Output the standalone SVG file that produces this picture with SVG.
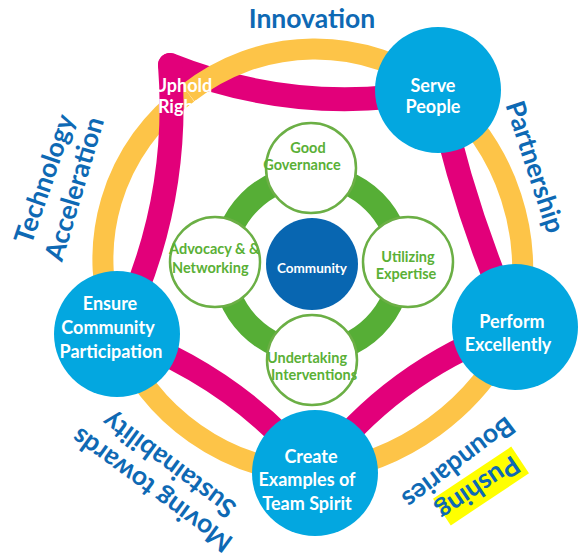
<svg xmlns="http://www.w3.org/2000/svg" width="580" height="560" viewBox="0 0 580 560">
<style>
.orange{fill:none;stroke:#FDC448;stroke-width:21}
.pink{fill:none;stroke:#E2007A;stroke-width:24;stroke-linecap:round}
.blue{fill:#03A7E0}
.sat{fill:#fff;stroke:#6BAF45;stroke-width:2.5}
.wl{font-family:Lato,"Open Sans",sans-serif;font-weight:bold;font-size:18px;fill:#fff;text-anchor:middle}
.gl{font-family:Lato,"Open Sans",sans-serif;font-weight:bold;font-size:14.5px;fill:#5AB036;text-anchor:middle}
.ol{font-family:Lato,"Open Sans",sans-serif;font-weight:bold;font-size:26.5px;fill:#0E69B4;text-anchor:middle}
</style>
<rect width="580" height="560" fill="#fff"/>
<g id="connectors">
<path class="orange" d="M117,334 A205,205 0 0 1 188,93"/>
<path class="orange" d="M438,90 A231,231 0 0 1 515,327"/>
<path class="orange" d="M515,327 A250,250 0 0 1 315,473"/>
<path class="orange" d="M315,473 A218,218 0 0 1 117,334"/>
<path class="pink" d="M170,65 Q300,117 438,90"/>
<path class="orange" d="M188,93 A205,205 0 0 1 438,90"/>
<path class="pink" d="M438,90 Q464,212 515,327"/>
<path class="pink" d="M515,327 Q393,369 315,473"/>
<path class="pink" d="M315,473 Q236,376 117,334"/>
<path class="pink" d="M117,334 Q181,207 170,65"/>
<circle cx="312" cy="264" r="88" fill="none" stroke="#56AE36" stroke-width="24"/>
</g>
<g id="uphold-rights">
<text class="wl" x="183" y="92">Uphold</text>
<text class="wl" x="183" y="113">Rights</text>
</g>
<g id="serve-people">
<circle class="blue" cx="438" cy="90" r="63"/>
<text class="wl" x="433" y="92">Serve</text>
<text class="wl" x="433" y="113">People</text>
</g>
<g id="perform-excellently">
<circle class="blue" cx="515" cy="327" r="63"/>
<text class="wl" x="512" y="328">Perform</text>
<text class="wl" x="508" y="351">Excellently</text>
</g>
<g id="create-examples">
<circle class="blue" cx="315" cy="473" r="63"/>
<text class="wl" x="311" y="463">Create</text>
<text class="wl" x="307" y="486">Examples of</text>
<text class="wl" x="307" y="510">Team Spirit</text>
</g>
<g id="ensure-community">
<circle class="blue" cx="117" cy="334" r="63"/>
<text class="wl" x="110" y="310">Ensure</text>
<text class="wl" x="108" y="334">Community</text>
<text class="wl" x="111" y="358">Participation</text>
</g>
<g id="good-governance">
<circle class="sat" cx="311" cy="168" r="45"/>
<text class="gl" x="308" y="153">Good</text>
<text class="gl" x="302" y="170">Governance</text>
</g>
<g id="advocacy">
<circle class="sat" cx="215" cy="262" r="45"/>
<text class="gl" x="169" y="254" style="text-anchor:start">Advocacy &amp; &amp;</text>
<text class="gl" x="172" y="273" style="text-anchor:start">Networking</text>
</g>
<g id="utilizing-expertise">
<circle class="sat" cx="408" cy="262" r="45"/>
<text class="gl" x="408" y="262">Utilizing</text>
<text class="gl" x="406" y="279">Expertise</text>
</g>
<g id="undertaking-interventions">
<circle class="sat" cx="312" cy="360" r="45"/>
<text class="gl" x="307" y="363">Undertaking</text>
<text class="gl" x="314" y="380">Interventions</text>
</g>
<g id="community">
<circle cx="312" cy="264" r="46" fill="#0866B1"/>
<text class="gl" x="312" y="273" style="fill:#fff;font-size:13.5px">Community</text>
</g>
<g id="labels">
<text class="ol" x="312" y="28">Innovation</text>
<text class="ol" x="0" y="9" transform="translate(535,167) rotate(72)">Partnership</text>
<text class="ol" x="0" y="9" transform="translate(44.5,179) rotate(-71)">Technology</text>
<text class="ol" x="0" y="9" transform="translate(74.5,189) rotate(-73.5)">Acceleration</text>
<text class="ol" x="0" y="9" transform="translate(152,490) rotate(216)">Moving towards</text>
<text class="ol" x="0" y="9" transform="translate(169,465) rotate(216.4)">Sustainability</text>
<rect x="-47" y="-16" width="94" height="32" fill="#FFFF00" transform="translate(481,486) rotate(146.3)"/>
<text class="ol" x="0" y="9" transform="translate(478,488) rotate(146.3)">Pushing</text>
<text class="ol" x="0" y="9" transform="translate(458.5,462.5) rotate(143)">Boundaries</text>
</g>
</svg>
